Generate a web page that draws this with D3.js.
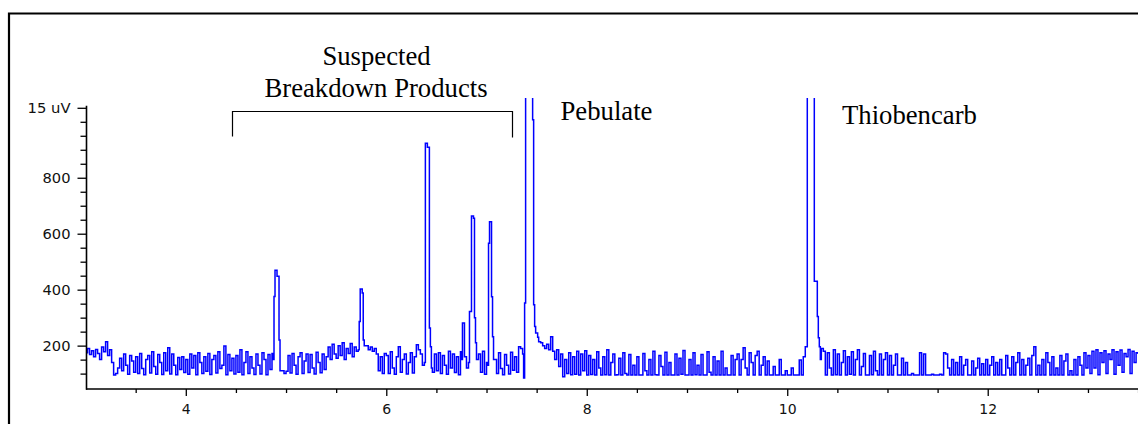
<!DOCTYPE html>
<html>
<head>
<meta charset="utf-8">
<script src="https://cdn.jsdelivr.net/npm/d3@7"></script>
<style>
html,body{margin:0;padding:0;background:#fff;overflow:hidden}
svg{display:block}
</style>
</head>
<body>
<svg id="chart" width="1138" height="424"></svg>
<script>
// ---------------- DATA ----------------
// Baseline detector signal, one row per 0.5 min window starting at 3.0 min, sampled every 0.02 min
const baselineStart = 3.0;
const baselineRowSpan = 0.5;
const baselineStep = 0.02;
const baselineRows = [
  [175,190,168,182,160,186,172,150,195,178,214,165,185,140,95,100,120,155,110,170,130,98,165,145,105], // 3.0
  [160,100,172,118,96,150,165,102,178,125,98,168,140,97,175,110,192,99,170,130,96,158,115,160,104],   // 3.5
  [150,98,170,120,165,96,175,140,100,160,108,172,97,150,165,102,178,118,130,199,96,168,110,155,99],    // 4.0
  [165,105,185,96,140,178,100,160,120,97,170,130,99,175,150,96,168,115,172,150,150,150,150,110,100],   // 4.5
  [108,165,102,172,130,98,160,175,100,145,170,104,168,120,99,176,140,103,170,115,160,195,150,205,170], // 5.0
  [155,200,165,210,150,190,172,208,160,195,180,203,185,185,185,200,185,195,180,190,170,110,160,100,172], // 5.5
  [165,100,178,120,98,160,196,105,150,170,99,140,175,102,160,203,185,170,130,150,150,150,150,105,170], // 6.0
  [110,175,100,165,130,98,180,120,170,104,160,96,178,150,150,120,150,150,150,150,150,170,105,180,98],  // 6.5
  [140,150,150,150,150,100,175,118,96,168,130,99,176,112,160,105,196,190,170,150,150,150,150,150,150], // 7.0
  [150,150,210,200,190,205,185,232,180,150,185,125,170,89,150,100,175,96,160,98,180,95,170,110,182],   // 7.5
  [95,165,97,150,95,178,120,95,160,96,185,95,140,170,95,96,155,95,175,100,95,168,95,130,95],          // 8.0
  [160,95,95,172,110,95,150,95,180,96,95,165,125,95,176,95,140,95,95,170,95,155,98,183,95],           // 8.5
  [95,150,95,175,96,130,95,168,95,95,178,105,95,160,95,145,95,180,95,120,95,95,165,95,150],           // 9.0
  [170,95,150,192,120,95,175,140,95,165,180,95,130,160,95,145,95,95,125,95,95,150,95,95,110],         // 9.5
  [95,95,120,95,95,95,149,95,150,150,150,150,150,150,150,150,150,150,180,95,175,120,95,185,96],       // 10.0
  [170,95,140,182,95,160,98,178,95,150,185,95,125,172,95,95,165,96,180,110,95,170,95,150,175],        // 10.5
  [95,165,95,130,170,95,95,155,95,140,95,95,100,95,95,95,175,95,170,95,95,95,98,95,95],               // 11.0
  [95,98,95,175,170,120,95,150,95,140,95,160,95,130,150,95,95,145,95,120,155,95,135,95,150],          // 11.5
  [95,130,160,95,140,95,150,95,95,165,120,95,160,95,140,175,95,150,95,130,155,95,165,196,95],         // 12.0
  [130,95,150,95,175,140,95,160,95,120,95,165,95,145,170,95,110,95,150,95,160,130,95,175,120],        // 12.5
  [165,100,180,120,185,96,175,140,182,100,170,150,185,98,178,130,184,105,172,160,186,100,180,140,175],// 13.0
  [170]                                                                                               // 13.5
];

// Peaks: [time (min), signal]
const peak490 = [[4.87,150],[4.88,376],[4.89,469],[4.90,469],[4.91,448],[4.92,448],[4.93,220],[4.94,110]];
const peak575 = [[5.72,185],[5.73,286],[5.74,402],[5.75,402],[5.76,388],[5.77,220],[5.78,200]];
const peak640 = [[6.38,140],[6.39,923],[6.40,923],[6.41,909],[6.42,909],[6.43,263],[6.44,196],[6.45,120]];
const peak676 = [[6.75,150],[6.76,281],[6.77,281],[6.78,160]];
const peak686 = [[6.82,140],[6.83,322],[6.84,322],[6.85,663],[6.86,663],[6.87,655],[6.88,300],[6.89,210],[6.90,150]];
const peak704 = [[7.01,130],[7.02,566],[7.03,643],[7.04,643],[7.05,375],[7.06,232],[7.07,150]];
const peakPebulate = [[7.37,84],[7.38,352],[7.39,2500],[7.46,1007],[7.47,346],[7.48,268],[7.49,245],[7.51,230],[7.52,214]];
const peakThiobencarb = [[10.16,160],[10.18,196],[10.20,2500],[10.27,430],[10.30,304],[10.31,228],[10.32,196],[10.33,150],[10.34,190]];

const xTickMajor = [4, 6, 8, 10, 12];
const xTickLabels = ["4", "6", "8", "10", "12"];
const yTickMajor = [200, 400, 600, 800, 1050];
const yTickLabels = ["200", "400", "600", "800", "15 uV"];

const bracketLabelLines = ["Suspected", "Breakdown Products"];
const compoundLabels = ["Pebulate", "Thiobencarb"];

// ---------------- BUILD SERIES ----------------
const peaks = [peak490, peak575, peak640, peak676, peak686, peak704, peakPebulate, peakThiobencarb];
let basePts = [];
baselineRows.forEach((row, k) => {
  row.forEach((v, j) => {
    const t = +(baselineStart + k * baselineRowSpan + j * baselineStep).toFixed(3);
    basePts.push([t, v]);
  });
});
basePts = basePts.filter(([t]) => !peaks.some(p => t >= p[0][0] - 1e-6 && t <= p[p.length - 1][0] + 1e-6));
const series = basePts.concat(...peaks).sort((a, b) => a[0] - b[0]);

// ---------------- DRAW ----------------
const svg = d3.select("#chart");
svg.append("rect").attr("width", 1138).attr("height", 424).attr("fill", "#fff");

const x = d3.scaleLinear().domain([3, 13.5]).range([85.56, 85.56 + 10.5 * 100.24]);
const y = d3.scaleLinear().domain([45, 1050]).range([389, 107.8]);

// outer frame
svg.append("path").attr("d", "M9,430 V13.5 H1140")
  .attr("fill", "none").attr("stroke", "#000").attr("stroke-width", 2.2);

// clip
svg.append("defs").append("clipPath").attr("id", "plotclip")
  .append("rect").attr("x", 86).attr("y", 98).attr("width", 1060).attr("height", 292);

// trace
const line = d3.line().x(d => x(d[0])).y(d => y(d[1])).curve(d3.curveStepAfter);
svg.append("path").datum(series)
  .attr("clip-path", "url(#plotclip)")
  .attr("d", line)
  .attr("fill", "none")
  .attr("stroke", "#0000ff")
  .attr("stroke-width", 1.5)
  .attr("stroke-linejoin", "miter");

// X axis
const axisFont = "'DejaVu Sans', Verdana, sans-serif";
const xAxisG = svg.append("g").attr("transform", "translate(0,389)");
const xMinor = d3.range(3.5, 13.51, 0.5).filter(v => !xTickMajor.includes(v));
xAxisG.append("g").call(d3.axisBottom(x).tickValues(xMinor).tickSize(4).tickFormat("").tickSizeOuter(0))
  .call(g => g.select(".domain").remove());
xAxisG.append("g").call(d3.axisBottom(x).tickValues(xTickMajor).tickSize(7)
    .tickFormat((d, i) => xTickLabels[i]).tickSizeOuter(0))
  .call(g => g.select(".domain").remove())
  .call(g => g.selectAll("text").attr("y", 25).attr("dy", 0)
     .attr("font-family", axisFont).attr("font-size", 14).attr("fill", "#111"));
xAxisG.selectAll(".tick line").attr("stroke", "#000").attr("stroke-width", 1.3);
xAxisG.append("line").attr("x1", 86).attr("x2", 1138).attr("y1", 0).attr("y2", 0)
  .attr("stroke", "#000").attr("stroke-width", 1.5);

// Y axis
const yAxisG = svg.append("g").attr("transform", "translate(86.5,0)");
const yMinor = d3.range(100, 1001, 50).filter(v => !yTickMajor.includes(v));
yAxisG.append("g").call(d3.axisLeft(y).tickValues(yMinor).tickSize(6).tickFormat("").tickSizeOuter(0))
  .call(g => g.select(".domain").remove());
yAxisG.append("g").call(d3.axisLeft(y).tickValues(yTickMajor).tickSize(9)
    .tickFormat((d, i) => yTickLabels[i]).tickSizeOuter(0))
  .call(g => g.select(".domain").remove())
  .call(g => g.selectAll("text")
     .attr("x", -16).attr("dy", "0.36em")
     .attr("font-family", axisFont).attr("font-size", 13.5).attr("fill", "#111")
     .attr("textLength", (d, i) => yTickLabels[i].length > 3 ? 43 : 28)
     .attr("lengthAdjust", "spacingAndGlyphs"));
yAxisG.selectAll(".tick line").attr("stroke", "#000").attr("stroke-width", 1.3);
yAxisG.append("line").attr("x1", 0).attr("x2", 0).attr("y1", y(1050) - 2).attr("y2", 389.7)
  .attr("stroke", "#000").attr("stroke-width", 1.6);

// Bracket annotation
const serif = "'Liberation Serif','Times New Roman',Times,serif";
svg.append("path").attr("d", "M232.5,136.5 V111.5 H512.5 V137.5")
  .attr("fill", "none").attr("stroke", "#000").attr("stroke-width", 1.2);
svg.append("text").attr("x", 376.5).attr("y", 65).attr("text-anchor", "middle")
  .attr("font-family", serif).attr("font-size", 26.7).attr("fill", "#000").text(bracketLabelLines[0]);
svg.append("text").attr("x", 376).attr("y", 97).attr("text-anchor", "middle")
  .attr("font-family", serif).attr("font-size", 26.7).attr("fill", "#000").text(bracketLabelLines[1]);
svg.append("text").attr("x", 560.5).attr("y", 120).attr("font-family", serif)
  .attr("font-size", 26.7).attr("fill", "#000").text(compoundLabels[0]);
svg.append("text").attr("x", 842).attr("y", 124).attr("font-family", serif)
  .attr("font-size", 26.7).attr("fill", "#000").text(compoundLabels[1]);
</script>
</body>
</html>
